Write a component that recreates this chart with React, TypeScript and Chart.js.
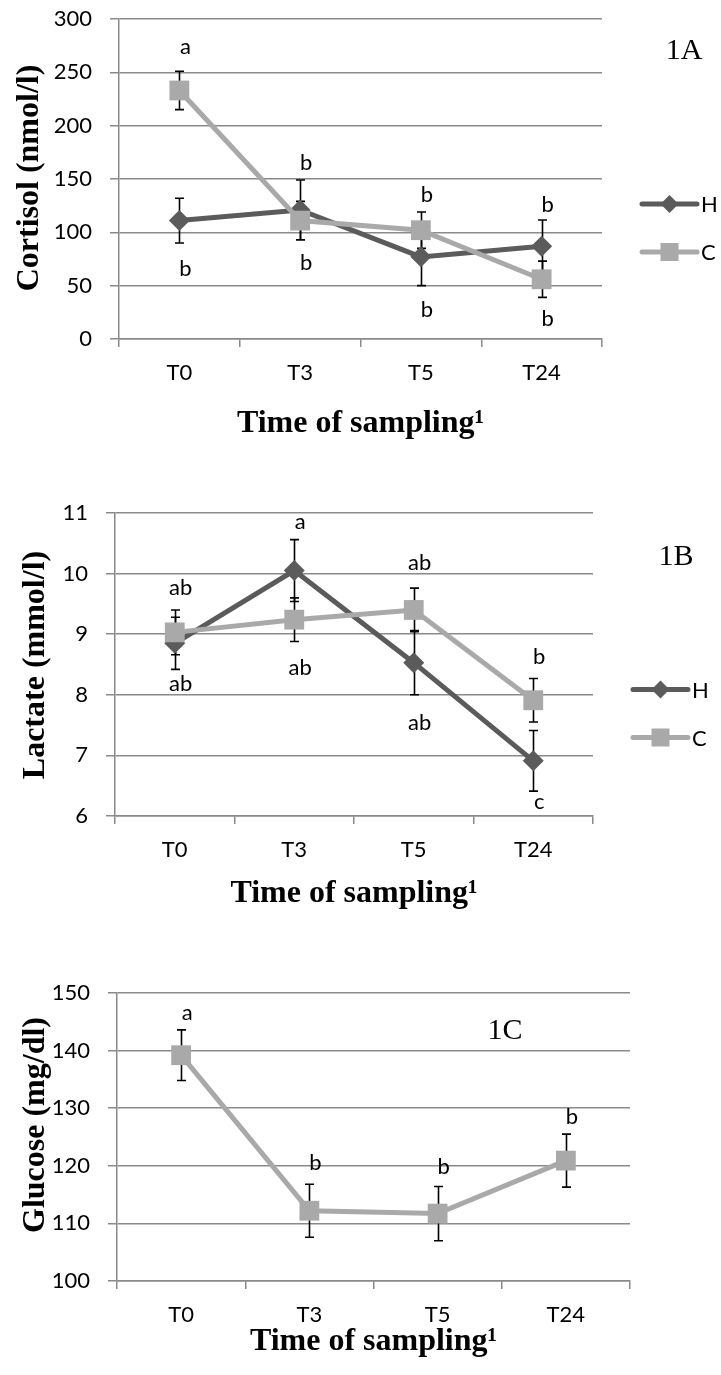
import React, { useEffect, useRef } from 'react';
import { Chart, registerables } from 'chart.js';

Chart.register(...registerables);

const categories = ['T0', 'T3', 'T5', 'T24'];
const seriesNames = ['H', 'C'];

// Cortisol (nmol/l), mean and error per sampling time
const cortisolH = [111, 121, 77, 87];
const cortisolHErr = [21, 28, 27, 24.5];
const cortisolC = [233, 111, 102, 56];
const cortisolCErr = [18, 18, 17, 17];
const cortisolLetters = ['a', 'b', 'b', 'b', 'b', 'b', 'b', 'b'];
const cortisolLetterAt = [0, 0, 1, 1, 2, 2, 3, 3];
const cortisolLetterY = [274, 65.6, 165, 71.2, 135, 27.2, 125.6, 18.8];
const cortisolAxis = [0, 300, 50];

// Lactate (mmol/l)
const lactateH = [8.85, 10.05, 8.53, 6.91];
const lactateHErr = [0.43, 0.51, 0.53, 0.5];
const lactateC = [9.03, 9.24, 9.4, 7.91];
const lactateCErr = [0.37, 0.36, 0.36, 0.36];
const lactateLetters = ['ab', 'ab', 'a', 'ab', 'ab', 'ab', 'b', 'c'];
const lactateLetterAt = [0, 0, 1, 1, 2, 2, 3, 3];
const lactateLetterY = [9.77, 8.18, 10.86, 8.45, 10.18, 7.54, 8.63, 6.24];
const lactateAxis = [6, 11, 1];

// Glucose (mg/dl)
const glucoseC = [139.2, 112.2, 111.7, 120.9];
const glucoseCErr = [4.4, 4.6, 4.7, 4.6];
const glucoseLetters = ['a', 'b', 'b', 'b'];
const glucoseLetterAt = [0, 1, 2, 3];
const glucoseLetterY = [146.5, 120.5, 119.8, 128.5];
const glucoseAxis = [100, 150, 10];

const DARK = '#5b5b5b';
const LIGHT = '#a9a9a9';
const GRID = '#8a8a8a';
const SANS = 'Lato, "Open Sans", sans-serif';
const SERIF = '"Liberation Serif", "DejaVu Serif", serif';
const SANS_SIZE = 22;

type Series = { name: string; data: number[]; err: number[]; color: string; style: 'rectRot' | 'rect' };

type PanelCfg = {
  top: number;
  height: number;
  area: { left: number; right: number; top: number; bottom: number };
  axis: number[];
  series: Series[];
  letters: string[];
  letterAt: number[];
  letterY: number[];
  yTitle: string;
  yTitleX: number;
  yTitleY: number;
  xTitleBaseline: number;
  tag: string;
  tagX: number;
  tagY: number;
  legend: boolean;
};

const panels: PanelCfg[] = [
  {
    top: 0,
    height: 460,
    area: { left: 119, right: 602, top: 19, bottom: 339 },
    axis: cortisolAxis,
    series: [
      { name: seriesNames[0], data: cortisolH, err: cortisolHErr, color: DARK, style: 'rectRot' },
      { name: seriesNames[1], data: cortisolC, err: cortisolCErr, color: LIGHT, style: 'rect' },
    ],
    letters: cortisolLetters,
    letterAt: cortisolLetterAt,
    letterY: cortisolLetterY,
    yTitle: 'Cortisol (nmol/l)',
    yTitleX: 38,
    yTitleY: 178,
    xTitleBaseline: 432,
    tag: '1A',
    tagX: 684,
    tagY: 59,
    legend: true,
  },
  {
    top: 460,
    height: 470,
    area: { left: 115, right: 593, top: 53, bottom: 356 },
    axis: lactateAxis,
    series: [
      { name: seriesNames[0], data: lactateH, err: lactateHErr, color: DARK, style: 'rectRot' },
      { name: seriesNames[1], data: lactateC, err: lactateCErr, color: LIGHT, style: 'rect' },
    ],
    letters: lactateLetters,
    letterAt: lactateLetterAt,
    letterY: lactateLetterY,
    yTitle: 'Lactate (mmol/l)',
    yTitleX: 44,
    yTitleY: 205,
    xTitleBaseline: 442,
    tag: '1B',
    tagX: 676,
    tagY: 105,
    legend: true,
  },
  {
    top: 930,
    height: 445,
    area: { left: 117, right: 630, top: 63, bottom: 351 },
    axis: glucoseAxis,
    series: [
      { name: seriesNames[1], data: glucoseC, err: glucoseCErr, color: LIGHT, style: 'rect' },
    ],
    letters: glucoseLetters,
    letterAt: glucoseLetterAt,
    letterY: glucoseLetterY,
    yTitle: 'Glucose (mg/dl)',
    yTitleX: 44,
    yTitleY: 195,
    xTitleBaseline: 420,
    tag: '1C',
    tagX: 505,
    tagY: 109,
    legend: false,
  },
];

function drawMarker(ctx: CanvasRenderingContext2D, style: string, x: number, y: number, size: number, color: string) {
  ctx.fillStyle = color;
  ctx.beginPath();
  if (style === 'rectRot') {
    ctx.moveTo(x - size, y);
    ctx.lineTo(x, y - size);
    ctx.lineTo(x + size, y);
    ctx.lineTo(x, y + size);
    ctx.closePath();
  } else {
    ctx.rect(x - size, y - size, size * 2, size * 2);
  }
  ctx.fill();
}

function Panel({ cfg }: { cfg: PanelCfg }) {
  const ref = useRef<HTMLCanvasElement>(null);

  useEffect(() => {
    const canvas = ref.current;
    if (!canvas) return;
    const W = 721;
    const [yMin, yMax, yStep] = cfg.axis;

    const errorBars = {
      id: 'errorBars',
      beforeDatasetsDraw(chart: any) {
        const { ctx } = chart;
        const xs = chart.scales.x;
        const ys = chart.scales.y;
        ctx.save();
        ctx.strokeStyle = '#000';
        ctx.lineWidth = 1.6;
        cfg.series.forEach((s) => {
          s.data.forEach((v, i) => {
            const px = Math.round(xs.getPixelForValue(i)) + 0.5;
            const t = ys.getPixelForValue(v + s.err[i]);
            const b = ys.getPixelForValue(v - s.err[i]);
            ctx.beginPath();
            ctx.moveTo(px, t);
            ctx.lineTo(px, b);
            ctx.moveTo(px - 4.5, t);
            ctx.lineTo(px + 4.5, t);
            ctx.moveTo(px - 4.5, b);
            ctx.lineTo(px + 4.5, b);
            ctx.stroke();
          });
        });
        ctx.restore();
      },
    };

    const annotations = {
      id: 'annotations',
      afterDraw(chart: any) {
        const { ctx, chartArea } = chart;
        const xs = chart.scales.x;
        const ys = chart.scales.y;
        ctx.save();

        // significance letters
        ctx.fillStyle = '#000';
        ctx.font = `${SANS_SIZE}px ${SANS}`;
        ctx.textAlign = 'center';
        ctx.textBaseline = 'middle';
        cfg.letters.forEach((txt, k) => {
          const px = xs.getPixelForValue(cfg.letterAt[k]) + 6;
          const py = ys.getPixelForValue(cfg.letterY[k]);
          ctx.fillText(txt, px, py);
        });

        // axis titles
        ctx.font = `bold 32px ${SERIF}`;
        ctx.textBaseline = 'alphabetic';
        ctx.textAlign = 'center';
        ctx.fillText('Time of sampling\u00B9', (chartArea.left + chartArea.right) / 2, cfg.xTitleBaseline);
        ctx.save();
        ctx.translate(cfg.yTitleX, cfg.yTitleY);
        ctx.rotate(-Math.PI / 2);
        ctx.fillText(cfg.yTitle, 0, 0);
        ctx.restore();

        // panel tag
        ctx.font = `30px ${SERIF}`;
        ctx.fillText(cfg.tag, cfg.tagX, cfg.tagY);

        // legend
        if (cfg.legend) {
          const mid = (chartArea.top + chartArea.bottom) / 2;
          cfg.series.forEach((s, i) => {
            const y = mid + 25 + i * 48;
            const x0 = chartArea.right + 40;
            const x1 = x0 + 55;
            ctx.strokeStyle = s.color;
            ctx.lineWidth = 5;
            ctx.lineCap = 'round';
            ctx.beginPath();
            ctx.moveTo(x0, y);
            ctx.lineTo(x1, y);
            ctx.stroke();
            drawMarker(ctx, s.style, (x0 + x1) / 2, y, 9, s.color);
            ctx.fillStyle = '#000';
            ctx.font = `${SANS_SIZE}px ${SANS}`;
            ctx.textAlign = 'left';
            ctx.textBaseline = 'middle';
            ctx.fillText(s.name, x1 + 4, y + 1);
          });
        }
        ctx.restore();
      },
    };

    const chart = new Chart(canvas, {
      type: 'line',
      data: {
        labels: categories,
        datasets: cfg.series.map((s) => ({
          label: s.name,
          data: s.data,
          borderColor: s.color,
          backgroundColor: s.color,
          borderWidth: 5,
          tension: 0,
          fill: false,
          pointStyle: s.style,
          pointRadius: s.style === 'rect' ? 14 : 10.5,
          pointBackgroundColor: s.color,
          pointBorderWidth: 0,
          order: s.name === 'C' ? 0 : 1,
        })),
      },
      options: {
        animation: false,
        responsive: false,
        devicePixelRatio: 1,
        layout: {
          padding: { left: 0, top: cfg.area.top, right: W - cfg.area.right, bottom: 0 },
        },
        plugins: {
          legend: { display: false },
          tooltip: { enabled: false },
          title: { display: false },
        },
        scales: {
          x: {
            type: 'category',
            offset: true,
            grid: {
              offset: true,
              drawOnChartArea: false,
              drawTicks: true,
              tickLength: 8,
              color: GRID,
              lineWidth: 1.5,
            },
            border: { display: true, color: GRID, width: 1.5 },
            ticks: { font: { family: SANS, size: SANS_SIZE }, color: '#000', padding: 13, maxRotation: 0 },
            afterFit: (scale: any) => {
              scale.height = cfg.height - cfg.area.bottom;
              scale.paddingLeft = 0;
              scale.paddingRight = 0;
            },
          },
          y: {
            min: yMin,
            max: yMax,
            ticks: { stepSize: yStep, font: { family: SANS, size: SANS_SIZE }, color: '#000', padding: 18 },
            grid: { color: GRID, lineWidth: 1.5, tickLength: 9, drawTicks: true },
            border: { display: true, color: GRID, width: 1.5 },
            afterFit: (scale: any) => {
              scale.width = cfg.area.left;
              scale.paddingTop = 0;
              scale.paddingBottom = 0;
            },
          },
        },
      },
      plugins: [errorBars, annotations],
    } as any);

    return () => chart.destroy();
  }, [cfg]);

  return (
    <canvas
      ref={ref}
      width={721}
      height={cfg.height}
      style={{ position: 'absolute', left: 0, top: cfg.top, width: 721, height: cfg.height }}
    />
  );
}

export default function App() {
  return (
    <div style={{ position: 'absolute', left: 0, top: 0, width: 721, height: 1375, background: '#fff' }}>
      {panels.map((p) => (
        <Panel key={p.tag} cfg={p} />
      ))}
    </div>
  );
}
